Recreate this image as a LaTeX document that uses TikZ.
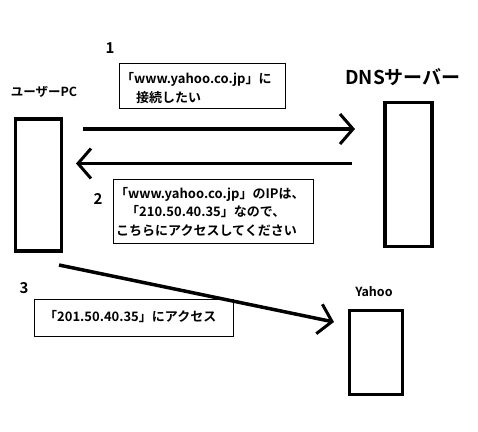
\documentclass[tikz,border=0pt]{standalone}
\usepackage{fontspec}
\newfontfamily\jp{Noto Sans CJK JP Bold}
\newfontfamily\jpb{Noto Sans CJK JP Bold}
\usetikzlibrary{arrows.meta}
\begin{document}
\begin{tikzpicture}[x=1pt,y=-1pt,
  dev/.style={draw,line width=3.5pt,inner sep=0pt},
  note/.style={draw,line width=0.8pt,inner sep=0pt},
  txt/.style={font=\jp\fontsize{13}{18.5}\selectfont,align=left,inner sep=0pt},
  arr/.style={line width=3.5pt,-{Straight Barb[length=13pt,width=30pt,line width=3pt]}},
  num/.style={font=\jpb\fontsize{15}{15}\selectfont,inner sep=0pt},
  lbl/.style={font=\jpb\fontsize{12.5}{12.5}\selectfont,inner sep=0pt}]
\useasboundingbox (0,0) rectangle (478,431);
% devices
\node[dev,minimum width=46pt,minimum height=132pt] (pc) at (38.5,185) {};
\node[dev,minimum width=47pt,minimum height=144pt] (dns) at (408.5,174.5) {};
\node[dev,minimum width=53pt,minimum height=84pt] (yh) at (376,352.5) {};
% labels
\node[lbl] (pcl) at (44,92) {ユーザーPC};
\node[font=\jpb\fontsize{19}{19}\selectfont,inner sep=0pt] (dnsl) at (403,77) {DNSサーバー};
\node[lbl] (yhl) at (374,292) {Yahoo};
\node[num] (n1) at (110,48) {1};
\node[num] (n2) at (98,199) {2};
\node[num] (n3) at (24,288) {3};
% notes
\node[note,minimum width=166pt,minimum height=45pt,anchor=north west] (b1) at (119,63) {};
\node[txt,anchor=west] (t1) at (121,79) {「www.yahoo.co.jp」に};
\node[txt,anchor=west] (t1b) at (136,98) {接続したい};
\node[note,minimum width=200pt,minimum height=64pt,anchor=north west] (b2) at (113,179) {};
\node[txt,anchor=west] (t2) at (115,194) {「www.yahoo.co.jp」のIPは、};
\node[txt,anchor=west] (t2b) at (126,212) {「210.50.40.35」なので、};
\node[txt,anchor=west] (t2c) at (116,231) {こちらにアクセスしてください};
\node[note,minimum width=199pt,minimum height=37pt,anchor=north west] (b3) at (34,299) {};
\node[txt,anchor=west] (t3) at (44,317) {「201.50.40.35」にアクセス};
% arrows
\coordinate (a1s) at (83,129);
\coordinate (a1e) at (355,129);
\coordinate (a2s) at (352,163.5);
\coordinate (a2e) at (76,163.5);
\coordinate (a3s) at (59,265);
\coordinate (a3e) at (334,322);
\draw[arr] (a1s) -- (a1e);
\draw[arr] (a2s) -- (a2e);
\draw[arr] (a3s) -- (a3e);
\end{tikzpicture}
\end{document}
